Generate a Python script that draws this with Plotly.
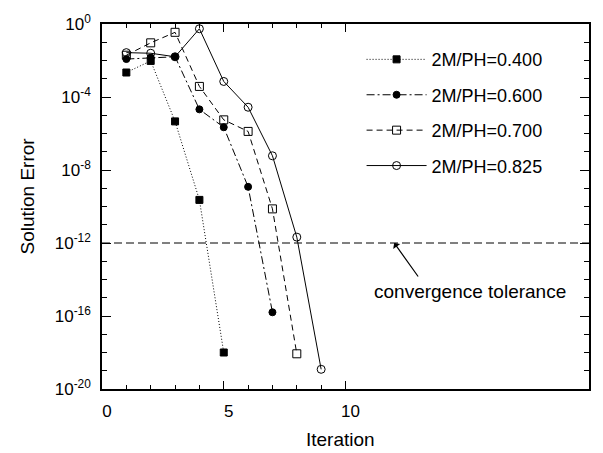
import plotly.graph_objects as go

# Solution error per Newton iteration for several load ratios
iter_040 = [1, 2, 3, 4, 5]
err_040 = [2.2e-3, 9.5e-3, 4.6e-6, 2.3e-10, 1.0e-18]

iter_060 = [1, 2, 3, 4, 5, 6, 7]
err_060 = [1.2e-2, 1.45e-2, 1.6e-2, 2.1e-5, 2.2e-6, 1.2e-9, 1.6e-16]

iter_070 = [1, 2, 3, 4, 5, 6, 7, 8]
err_070 = [1.95e-2, 9.3e-2, 3.5e-1, 3.8e-4, 5.6e-6, 1.3e-6, 7.4e-11, 8.5e-19]

iter_0825 = [1, 2, 3, 4, 5, 6, 7, 8, 9]
err_0825 = [2.7e-2, 2.5e-2, 1.6e-2, 5.5e-1, 7.1e-4, 2.75e-5, 6.0e-8, 2.1e-12, 1.2e-19]

series_names = ["2M/PH=0.400", "2M/PH=0.600", "2M/PH=0.700", "2M/PH=0.825"]

tolerance = 1e-12
x_range = [0, 20]
x_major = [0, 5, 10]
x_minor = [1, 2, 3, 4, 6, 7, 8, 9]
y_exponents = [0, -4, -8, -12, -16, -20]
y_major = [10.0 ** e for e in y_exponents]
y_minor = [10.0 ** e for e in range(0, -21, -1)]
y_ticktext = ["10<sup>%d</sup>" % e for e in y_exponents]

FONT = "Liberation Sans, Arial, Helvetica, sans-serif"

styles = [
    dict(dash="1px,2px", symbol="square", size=7),
    dict(dash="8px,3px,2px,3px", symbol="circle", size=7),
    dict(dash="6px,4px", symbol="square-open", size=8),
    dict(dash="solid", symbol="circle-open", size=8),
]

fig = go.Figure()

# convergence tolerance line
fig.add_trace(go.Scatter(
    x=x_range, y=[tolerance, tolerance], mode="lines",
    line=dict(color="black", width=1, dash="8px,4px"),
    showlegend=False, hoverinfo="skip",
))

data = [(iter_040, err_040), (iter_060, err_060), (iter_070, err_070), (iter_0825, err_0825)]
for (xs, ys), name, st in zip(data, series_names, styles):
    fig.add_trace(go.Scatter(
        x=xs, y=ys, mode="lines+markers", name=name, legendgroup=name,
        line=dict(color="black", width=1, dash=st["dash"]),
        marker=dict(symbol=st["symbol"], size=st["size"], color="black",
                    line=dict(color="black", width=1)),
    ))

fig.update_layout(
    width=603, height=453,
    margin=dict(l=102, r=12, t=17, b=64),
    paper_bgcolor="white", plot_bgcolor="white",
    font=dict(family=FONT, size=17, color="black"),
    legend=dict(
        x=0.533, y=0.953, xanchor="left", yanchor="top",
        traceorder="grouped", tracegroupgap=9, itemwidth=60,
        font=dict(family=FONT, size=18, color="black"),
        bgcolor="rgba(0,0,0,0)",
    ),
    xaxis=dict(
        range=x_range, showgrid=False, zeroline=False,
        showline=True, linecolor="black", linewidth=1.5, mirror="ticks",
        ticks="inside", ticklen=8, tickwidth=1.2, tickcolor="black",
        tickmode="array", tickvals=x_major, ticktext=[str(v) for v in x_major],
        ticklabelshift=5, ticklabelstandoff=6,
        minor=dict(tickmode="array", tickvals=x_minor, ticks="inside",
                   ticklen=4, tickwidth=1.2, tickcolor="black", showgrid=False),
    ),
    yaxis=dict(
        type="log", range=[-20, 0], showgrid=False, zeroline=False,
        showline=True, linecolor="black", linewidth=1.5, mirror="ticks",
        ticks="inside", ticklen=9, tickwidth=1.2, tickcolor="black",
        tickmode="array", tickvals=y_major, ticktext=y_ticktext,
        ticklabelstandoff=6,
        minor=dict(tickmode="array", tickvals=y_minor, ticks="inside",
                   ticklen=5, tickwidth=1.2, tickcolor="black", showgrid=False),
    ),
    annotations=[
        dict(text="Iteration", xref="paper", yref="paper", x=0.49, y=-0.137,
             xanchor="center", yanchor="middle", showarrow=False,
             font=dict(family=FONT, size=19)),
        dict(text="Solution Error", xref="paper", yref="paper", x=-0.152, y=0.53,
             xanchor="center", yanchor="middle", textangle=-90, showarrow=False,
             font=dict(family=FONT, size=19)),
        dict(text="", x=12, y=-12, xref="x", yref="y", showarrow=True,
             ax=25, ay=35, arrowhead=1, arrowsize=1.2, arrowwidth=1.2,
             arrowcolor="black"),
        dict(text="convergence tolerance", x=15.1, y=-14.67, xref="x", yref="y",
             showarrow=False, xanchor="center", yanchor="middle",
             font=dict(family=FONT, size=19)),
    ],
)

fig.write_html("out.html")
